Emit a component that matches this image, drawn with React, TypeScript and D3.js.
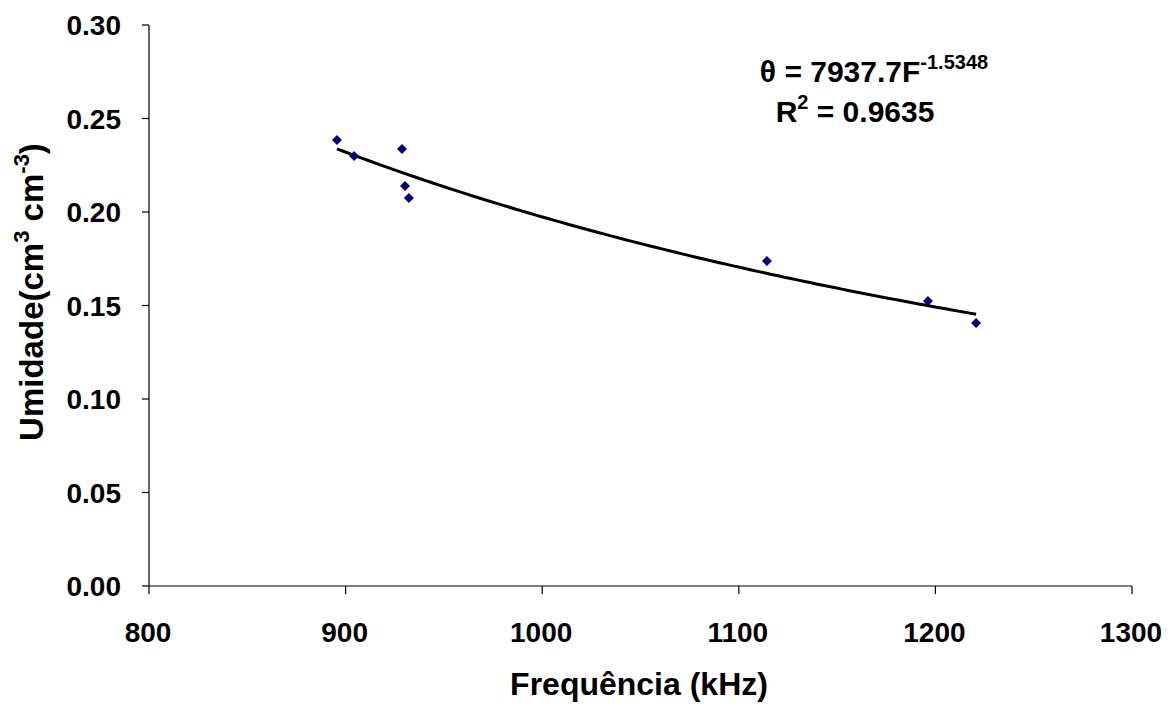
import React from "react";
import * as d3 from "d3";

const freq = [895.6, 904.3, 928.7, 930.2, 932.2, 1114.3, 1196.2, 1220.7];
const moisture = [0.2385, 0.2299, 0.2337, 0.2139, 0.2075, 0.1738, 0.1524, 0.1406];
const xTicks = [800, 900, 1000, 1100, 1200, 1300];
const yTicks = [0.0, 0.05, 0.1, 0.15, 0.2, 0.25, 0.3];
const fitCoef = 7937.7;
const fitExp = -1.5348;

export default function App() {
  const W = 1175, H = 705;
  const x = d3.scaleLinear().domain([800, 1300]).range([149, 1132]);
  const y = d3.scaleLinear().domain([0, 0.3]).range([586, 25]);
  const fMin = d3.min(freq) as number;
  const fMax = d3.max(freq) as number;
  const curve = d3.range(0, 101).map((i) => {
    const f = fMin + ((fMax - fMin) * i) / 100;
    return [f, fitCoef * Math.pow(f, fitExp)] as [number, number];
  });
  const line = d3.line<[number, number]>().x((d) => x(d[0])).y((d) => y(d[1]));
  const font = "Arial, 'Liberation Sans', sans-serif";
  return (
    <svg width={W} height={H} style={{ position: "absolute", left: 0, top: 0, background: "#fff" }} fontFamily={font}>
      {/* axes */}
      <line x1={x(800)} x2={x(800)} y1={y(0.3)} y2={y(0)} stroke="#000" strokeWidth={1.2} />
      <line x1={x(800)} x2={x(1300)} y1={y(0)} y2={y(0)} stroke="#000" strokeWidth={1.2} />
      {yTicks.map((t) => (
        <g key={"y" + t}>
          <line x1={x(800) - 7} x2={x(800)} y1={y(t)} y2={y(t)} stroke="#000" strokeWidth={1.2} />
          <text x={x(800) - 28} y={y(t)} dy="0.36em" textAnchor="end" fontSize={28} fontWeight="bold">
            {t.toFixed(2)}
          </text>
        </g>
      ))}
      {xTicks.map((t) => (
        <g key={"x" + t}>
          <line x1={x(t)} x2={x(t)} y1={y(0)} y2={y(0) + 8} stroke="#000" strokeWidth={1.2} />
          <text x={x(t) - 1} y={y(0) + 56} textAnchor="middle" fontSize={28} fontWeight="bold">
            {t}
          </text>
        </g>
      ))}
      {/* trend line */}
      <path d={line(curve) || ""} fill="none" stroke="#000" strokeWidth={3} />
      {/* points */}
      {freq.map((f, i) => (
        <path
          key={"p" + i}
          d="M0,-5L5,0L0,5L-5,0Z"
          transform={`translate(${x(f)},${y(moisture[i])})`}
          fill="#000080"
        />
      ))}
      {/* equation */}
      <text x={874} y={82} textAnchor="middle" fontSize={30} fontWeight="bold">
        θ = 7937.7F<tspan dy={-13} fontSize={20}>-1.5348</tspan>
      </text>
      <text x={855} y={122} textAnchor="middle" fontSize={30} fontWeight="bold">
        R<tspan dy={-13} fontSize={20}>2</tspan><tspan dy={13}> = 0.9635</tspan>
      </text>
      {/* axis titles */}
      <text x={639} y={695} textAnchor="middle" fontSize={32} fontWeight="bold">
        Frequência (kHz)
      </text>
      <text transform="translate(43,292) rotate(-90)" textAnchor="middle" fontSize={33} fontWeight="bold">
        Umidade(cm<tspan dy={-14} fontSize={22}>3</tspan><tspan dy={14}> cm</tspan><tspan dy={-14} fontSize={22}>-3</tspan><tspan dy={14}>)</tspan>
      </text>
    </svg>
  );
}
